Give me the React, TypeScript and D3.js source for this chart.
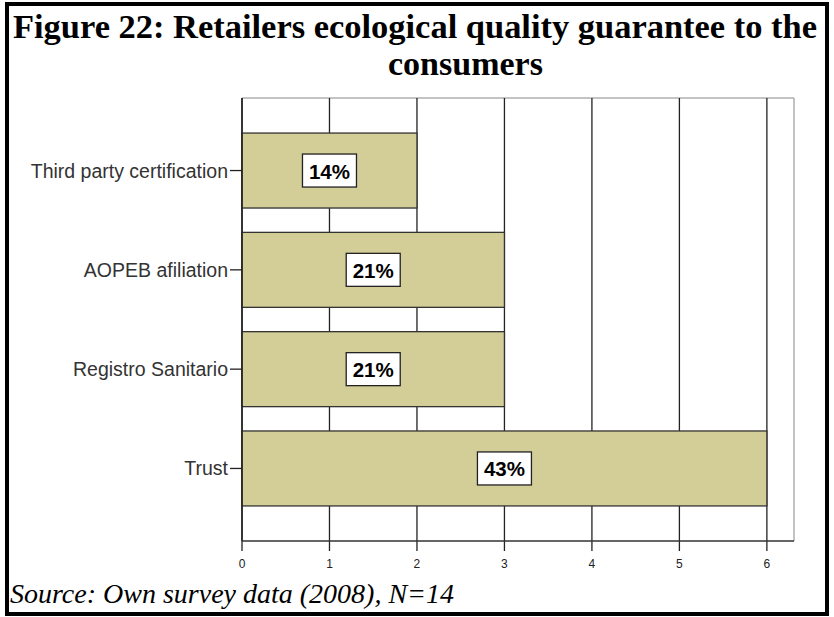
import React from "react";
import * as d3 from "d3";

const categories = ["Third party certification", "AOPEB afiliation", "Registro Sanitario", "Trust"];
const counts = [2, 3, 3, 6];
const percentLabels = ["14%", "21%", "21%", "43%"];
const xTicks = [0, 1, 2, 3, 4, 5, 6];

export default function App() {
  const W = 834, H = 617;
  const left = 242, right = 794, top = 98, bottom = 541;
  const x = d3.scaleLinear().domain([0, 6.31]).range([left, right]);
  const y = d3.scaleBand().domain(categories).range([top, bottom]).paddingInner(0.245).paddingOuter(0.353);
  const bw = y.bandwidth();
  const serif = "'Liberation Serif', 'Times New Roman', serif";
  const sans = "'Liberation Sans', Arial, sans-serif";
  return (
    <svg width={W} height={H} style={{ position: "absolute", left: 0, top: 0 }}>
      <rect x={0} y={0} width={W} height={H} fill="#fff" />
      <rect x={7} y={4} width={820} height={610} fill="none" stroke="#000" strokeWidth={4} />
      <text x={13} y={38} fontFamily={serif} fontWeight="bold" fontSize={34} textLength={804} lengthAdjust="spacingAndGlyphs">
        Figure 22: Retailers ecological quality guarantee to the
      </text>
      <text x={388} y={75} fontFamily={serif} fontWeight="bold" fontSize={34}>
        consumers
      </text>
      {/* plot frame */}
      <line x1={left} x2={right} y1={top} y2={top} stroke="#888" strokeWidth={1} />
      <line x1={right} x2={right} y1={top} y2={bottom} stroke="#888" strokeWidth={1} />
      {/* grid lines */}
      {xTicks.map((t) => (
        <line key={"g" + t} x1={x(t)} x2={x(t)} y1={top} y2={bottom + 10} stroke="#222" strokeWidth={1.3} />
      ))}
      {/* bars */}
      {categories.map((c, i) => (
        <rect key={c} x={x(0)} y={y(c)} width={x(counts[i]) - x(0)} height={bw} fill="#d3cd98" stroke="#333" strokeWidth={1.3} />
      ))}
      {/* axes */}
      <line x1={left} x2={left} y1={top} y2={bottom} stroke="#222" strokeWidth={1.5} />
      <line x1={left} x2={right} y1={bottom} y2={bottom} stroke="#333" strokeWidth={1.3} />
      {xTicks.map((t) => (
        <text key={"t" + t} x={x(t)} y={568} textAnchor="middle" fontFamily={sans} fontSize={12} fill="#222">
          {t}
        </text>
      ))}
      {categories.map((c) => (
        <g key={"l" + c}>
          <line x1={left - 12} x2={left} y1={(y(c) as number) + bw / 2} y2={(y(c) as number) + bw / 2} stroke="#222" strokeWidth={1.3} />
          <text x={left - 14} y={(y(c) as number) + bw / 2 + 7} textAnchor="end" fontFamily={sans} fontSize={19.5} fill="#333">
            {c}
          </text>
        </g>
      ))}
      {/* value labels */}
      {categories.map((c, i) => {
        const cx = (x(0) + x(counts[i])) / 2;
        const cy = (y(c) as number) + bw / 2;
        return (
          <g key={"v" + c}>
            <rect x={cx - 27} y={cy - 16.5} width={54} height={33} fill="#fff" stroke="#222" strokeWidth={1.3} />
            <text x={cx} y={cy + 8} textAnchor="middle" fontFamily={sans} fontWeight="bold" fontSize={20.5} fill="#000">
              {percentLabels[i]}
            </text>
          </g>
        );
      })}
      <text x={10} y={603} fontFamily={serif} fontStyle="italic" fontSize={28}>
        Source: Own survey data (2008), N=14
      </text>
    </svg>
  );
}
